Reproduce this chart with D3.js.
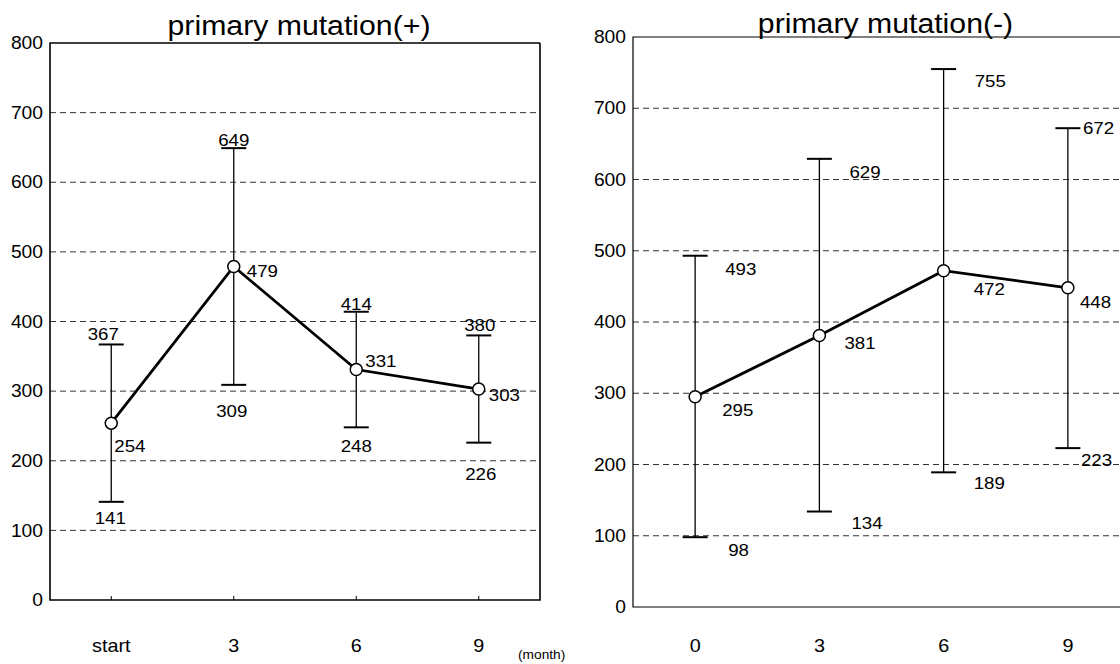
<!DOCTYPE html>
<html lang="en">
<head>
    <meta charset="UTF-8">
    <script src="https://d3js.org/d3.v7.min.js"></script>
    <title>primary mutation</title>
    <style>
        body { margin: 0; background: #fff; }
        text { font-family: "Liberation Sans", Arial, sans-serif; fill: #000; }
    </style>
</head>
<body>
<svg width="1120" height="664"></svg>
<script>
    // values
    const yTicks = [0, 100, 200, 300, 400, 500, 600, 700, 800];

    const posMonths = ["start", "3", "6", "9"];
    const posMean = [254, 479, 331, 303];
    const posUpper = [367, 649, 414, 380];
    const posLower = [141, 309, 248, 226];

    const negMonths = ["0", "3", "6", "9"];
    const negMean = [295, 381, 472, 448];
    const negUpper = [493, 629, 755, 672];
    const negLower = [98, 134, 189, 223];

    const svg = d3.select("svg");
    const SX = 1.1;   // the scan is a bit wider than the font

    // text helper: x,y is the anchor point, text is vertically centred on y
    function label(g, x, y, str, size, anchor) {
        return g.append("text")
            .attr("transform", `translate(${x},${y}) scale(${SX},1)`)
            .attr("text-anchor", anchor || "middle")
            .attr("dy", "0.35em")
            .style("font-size", size + "px")
            .text(str);
    }

    const panels = [
        {
            title: "primary mutation(+)", cats: posMonths, mean: posMean, upper: posUpper, lower: posLower,
            left: 50, right: 540, top: 43, bottom: 600, titleY: 35, frame: 1.6, ticks: true,
            upLab: { anchor: "middle", dx: [-8, 0, 0, 1], dy: [-10, -8, -8, -10] },
            meanLab: { anchor: "start", dx: [3, 13, 9, 10], dy: [23, 5, -9, 6] },
            lowLab: { anchor: "middle", dx: [-1, -2, 0, 2], dy: [16, 26, 19, 31] }
        },
        {
            title: "primary mutation(-)", cats: negMonths, mean: negMean, upper: negUpper, lower: negLower,
            left: 633, right: 1130, top: 37, bottom: 607, titleY: 33, frame: 1.2, ticks: false,
            upLab: { anchor: "start", dx: [30, 30, 31, 15], dy: [13, 13, 12, 0] },
            meanLab: { anchor: "start", dx: [27, 25, 30, 12], dy: [13, 8, 18, 14] },
            lowLab: { anchor: "start", dx: [33, 32, 30, 13], dy: [13, 12, 11, 12] }
        }
    ];

    panels.forEach(p => {
        const g = svg.append("g");
        const x = d3.scalePoint().domain(p.cats).range([p.left, p.right]).padding(0.5);
        const y = d3.scaleLinear().domain([0, 800]).range([p.bottom, p.top]);

        // dashed grid
        g.selectAll(".grid")
            .data(yTicks.filter(t => t > 0 && t < 800))
            .enter().append("line")
            .attr("x1", p.left).attr("x2", p.right)
            .attr("y1", d => y(d)).attr("y2", d => y(d))
            .attr("stroke", "#333")
            .attr("stroke-width", 1)
            .attr("stroke-dasharray", "6,4");

        // frame
        g.append("path")
            .attr("d", `M${p.right},${y(800)}H${p.left}V${y(0)}H${p.right}V${y(800)}`)
            .attr("fill", "none")
            .attr("stroke", "#000")
            .attr("stroke-width", p.frame);

        // y tick labels
        yTicks.forEach(t => label(g, p.left - 7, y(t), t, 17.5, "end"));

        // x tick marks and labels
        if (p.ticks) {
            g.selectAll(".xt").data(p.cats).enter().append("line")
                .attr("x1", d => x(d)).attr("x2", d => x(d))
                .attr("y1", y(0)).attr("y2", y(0) - 4)
                .attr("stroke", "#000").attr("stroke-width", 1);
        }
        p.cats.forEach(c => label(g, x(c), 646, c, 18, "middle"));

        // title
        label(g, (p.left + p.right) / 2 + 4, p.titleY, p.title, 27.5, "middle").attr("dy", null);

        const idx = d3.range(p.cats.length);

        // error bars
        g.selectAll(".bar").data(idx).enter().append("line")
            .attr("x1", i => x(p.cats[i])).attr("x2", i => x(p.cats[i]))
            .attr("y1", i => y(p.upper[i])).attr("y2", i => y(p.lower[i]))
            .attr("stroke", "#000").attr("stroke-width", 1.3);
        [p.upper, p.lower].forEach(arr => {
            g.selectAll(".cap").data(idx).enter().append("line")
                .attr("x1", i => x(p.cats[i]) - 12.5).attr("x2", i => x(p.cats[i]) + 12.5)
                .attr("y1", i => y(arr[i])).attr("y2", i => y(arr[i]))
                .attr("stroke", "#000").attr("stroke-width", 2);
        });

        // mean line
        const line = d3.line().x(i => x(p.cats[i])).y(i => y(p.mean[i]));
        g.append("path")
            .attr("d", line(idx))
            .attr("fill", "none")
            .attr("stroke", "#000")
            .attr("stroke-width", 2.8);

        g.selectAll("circle").data(idx).enter().append("circle")
            .attr("cx", i => x(p.cats[i]))
            .attr("cy", i => y(p.mean[i]))
            .attr("r", 6)
            .attr("fill", "#fff")
            .attr("stroke", "#000")
            .attr("stroke-width", 1.5);

        // value labels
        [[p.upper, p.upLab], [p.mean, p.meanLab], [p.lower, p.lowLab]].forEach(([arr, lab]) => {
            idx.forEach(i => label(g, x(p.cats[i]) + lab.dx[i], y(arr[i]) + lab.dy[i], arr[i], 17, lab.anchor));
        });
    });

    // unit label
    label(svg, 518, 655, "(month)", 12.5, "start");
</script>
</body>
</html>
